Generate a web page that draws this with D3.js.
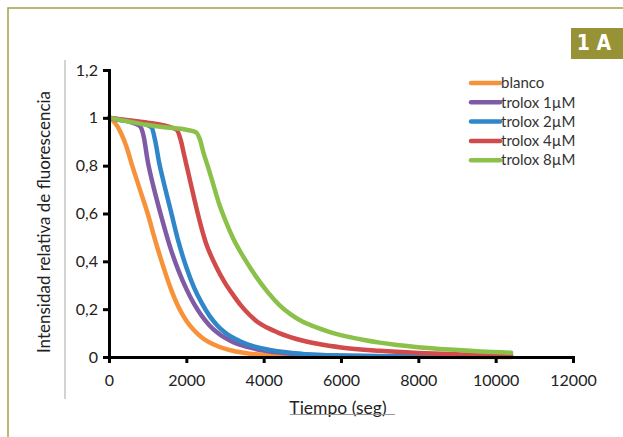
<!DOCTYPE html>
<html>
<head>
<meta charset="utf-8">
<script src="https://cdn.jsdelivr.net/npm/d3@7"></script>
<style>
  body { margin: 0; background: #fff; }
  svg { display: block; font-family: Lato, "Open Sans", sans-serif; }
</style>
</head>
<body>
<div id="chart"></div>
<script>
// series names and colours
const seriesNames = ["blanco", "trolox 1µM", "trolox 2µM", "trolox 4µM", "trolox 8µM"];
const seriesColors = ["#F7923A", "#7F5BA6", "#2F87C9", "#D24B4B", "#8BC04A"];

// time (seg) and relative intensity
const tBlanco = [0, 150, 300, 450, 600, 800, 1000, 1200, 1400, 1600, 1800, 2000, 2200, 2400, 2800, 3200, 3600, 4000, 5000, 6000, 8000, 10400];
const vBlanco = [1, 0.98, 0.94, 0.88, 0.8, 0.7, 0.6, 0.485, 0.38, 0.285, 0.208, 0.152, 0.112, 0.082, 0.046, 0.026, 0.015, 0.009, 0.004, 0.002, 0.001, 0];

const tTrolox1 = [0, 200, 400, 600, 800, 900, 1000, 1100, 1200, 1400, 1600, 1800, 2000, 2200, 2400, 2600, 2800, 3200, 3600, 4000, 4500, 5000, 6000, 8000, 10400];
const vTrolox1 = [1, 0.995, 0.99, 0.98, 0.965, 0.92, 0.82, 0.745, 0.68, 0.56, 0.45, 0.36, 0.285, 0.222, 0.172, 0.132, 0.102, 0.063, 0.041, 0.027, 0.017, 0.011, 0.005, 0.002, 0.001];

const tTrolox2 = [0, 300, 600, 900, 1100, 1200, 1300, 1400, 1600, 1800, 2000, 2200, 2400, 2600, 2800, 3000, 3400, 3800, 4200, 5000, 6000, 8000, 10400];
const vTrolox2 = [1, 0.99, 0.985, 0.975, 0.96, 0.9, 0.81, 0.74, 0.61, 0.48, 0.375, 0.29, 0.225, 0.172, 0.132, 0.102, 0.065, 0.042, 0.028, 0.013, 0.006, 0.002, 0.001];

const tTrolox4 = [0, 500, 1000, 1500, 1750, 1850, 1950, 2050, 2200, 2350, 2500, 2750, 3000, 3200, 3400, 3600, 3800, 4100, 4400, 5000, 5500, 6000, 7000, 8000, 9000, 10400];
const vTrolox4 = [1, 0.99, 0.98, 0.965, 0.95, 0.91, 0.84, 0.77, 0.665, 0.565, 0.48, 0.385, 0.31, 0.262, 0.218, 0.182, 0.152, 0.122, 0.1, 0.069, 0.052, 0.04, 0.026, 0.017, 0.011, 0.007];

const tTrolox8 = [0, 500, 1000, 1500, 2000, 2250, 2350, 2450, 2550, 2700, 2850, 3000, 3200, 3500, 3800, 4100, 4400, 4700, 5000, 5400, 5800, 6200, 6600, 7000, 7400, 8000, 8800, 9600, 10400];
const vTrolox8 = [1, 0.985, 0.97, 0.96, 0.95, 0.94, 0.91, 0.85, 0.8, 0.72, 0.64, 0.575, 0.5, 0.412, 0.337, 0.272, 0.218, 0.178, 0.148, 0.122, 0.1, 0.084, 0.071, 0.06, 0.051, 0.041, 0.031, 0.023, 0.018];

const xTicks = [0, 2000, 4000, 6000, 8000, 10000, 12000];
const yTicks = [0, 0.2, 0.4, 0.6, 0.8, 1, 1.2];

const seriesT = [tBlanco, tTrolox1, tTrolox2, tTrolox4, tTrolox8];
const seriesV = [vBlanco, vTrolox1, vTrolox2, vTrolox4, vTrolox8];

const width = 623, height = 437;
const margin = {top: 70, right: 50, bottom: 80, left: 109};
const innerW = 573 - margin.left, innerH = 357 - margin.top;

const svg = d3.select("#chart").append("svg")
    .attr("width", width)
    .attr("height", height);

// olive frame (top and left edges) and label box
svg.append("path")
    .attr("d", `M8,${height} L8,8 L${width},8`)
    .attr("fill", "none")
    .attr("stroke", "#A5A142")
    .attr("stroke-width", 1.5);

svg.append("rect")
    .attr("x", 571).attr("y", 28)
    .attr("width", 52).attr("height", 31)
    .attr("fill", "#989236");

svg.append("text")
    .attr("x", 594).attr("y", 50)
    .attr("text-anchor", "middle")
    .attr("fill", "#fff")
    .attr("font-size", "21px")
    .attr("font-weight", "bold")
    .attr("font-family", "'Liberation Sans Narrow', 'DejaVu Sans Condensed', sans-serif")
    .text("1 A");

// light grey line to the left of the chart
svg.append("line")
    .attr("x1", 65).attr("x2", 65)
    .attr("y1", 60).attr("y2", 399)
    .attr("stroke", "#c4c4c4")
    .attr("stroke-width", 1.5);

const g = svg.append("g")
    .attr("transform", `translate(${margin.left},${margin.top})`);

const x = d3.scaleLinear().domain([0, 12000]).range([0, innerW]);
const y = d3.scaleLinear().domain([0, 1.2]).range([innerH, 0]);

const fmtY = d => d3.format(".1f")(d).replace(/\.0$/, "").replace(".", ",");

// curves
const line = d3.line()
    .x(d => x(d[0]))
    .y(d => y(d[1]))
    .curve(d3.curveMonotoneX);

seriesNames.forEach((name, i) => {
  const pts = seriesT[i].map((t, j) => [t, seriesV[i][j]]);
  g.append("path")
      .datum(pts)
      .attr("fill", "none")
      .attr("stroke", seriesColors[i])
      .attr("stroke-width", 4.5)
      .attr("stroke-linejoin", "round")
      .attr("stroke-linecap", "round")
      .attr("d", line);
});

// axes
const xAxis = g.append("g")
    .attr("transform", `translate(0,${innerH})`)
    .call(d3.axisBottom(x).tickValues(xTicks).tickSize(6).tickPadding(12).tickFormat(d => d));

const yAxis = g.append("g")
    .call(d3.axisLeft(y).tickValues(yTicks).tickSize(6).tickPadding(5).tickFormat(fmtY));

[xAxis, yAxis].forEach(a => {
  a.select(".domain").attr("stroke", "#000").attr("stroke-width", 3);
  a.selectAll(".tick line").attr("stroke", "#000").attr("stroke-width", 3);
  a.selectAll(".tick text")
      .attr("font-size", "16px")
      .attr("fill", "#222")
      .attr("font-family", "Lato, sans-serif");
});

// axis titles
svg.append("text")
    .attr("transform", "translate(50,222) rotate(-90)")
    .attr("text-anchor", "middle")
    .attr("font-size", "17px")
    .attr("fill", "#222")
    .text("Intensidad relativa de fluorescencia");

svg.append("text")
    .attr("x", 338).attr("y", 414)
    .attr("text-anchor", "middle")
    .attr("font-size", "17.5px")
    .attr("fill", "#222")
    .text("Tiempo (seg)");

svg.append("line")
    .attr("x1", 290).attr("x2", 395)
    .attr("y1", 414.5).attr("y2", 414.5)
    .attr("stroke", "#999")
    .attr("stroke-width", 1);

// legend
const legend = svg.append("g")
    .attr("transform", "translate(470,83)");

const items = legend.selectAll(".legend-item")
    .data(seriesNames)
    .enter()
    .append("g")
    .attr("class", "legend-item")
    .attr("transform", (d, i) => `translate(0,${i * 19.3})`);

items.append("line")
    .attr("x1", 1).attr("x2", 30)
    .attr("stroke", (d, i) => seriesColors[i])
    .attr("stroke-width", 4.5)
    .attr("stroke-linecap", "round");

items.append("text")
    .attr("x", 31)
    .attr("dy", "0.35em")
    .attr("font-size", "15px")
    .attr("fill", "#333")
    .text(d => d);
</script>
</body>
</html>
